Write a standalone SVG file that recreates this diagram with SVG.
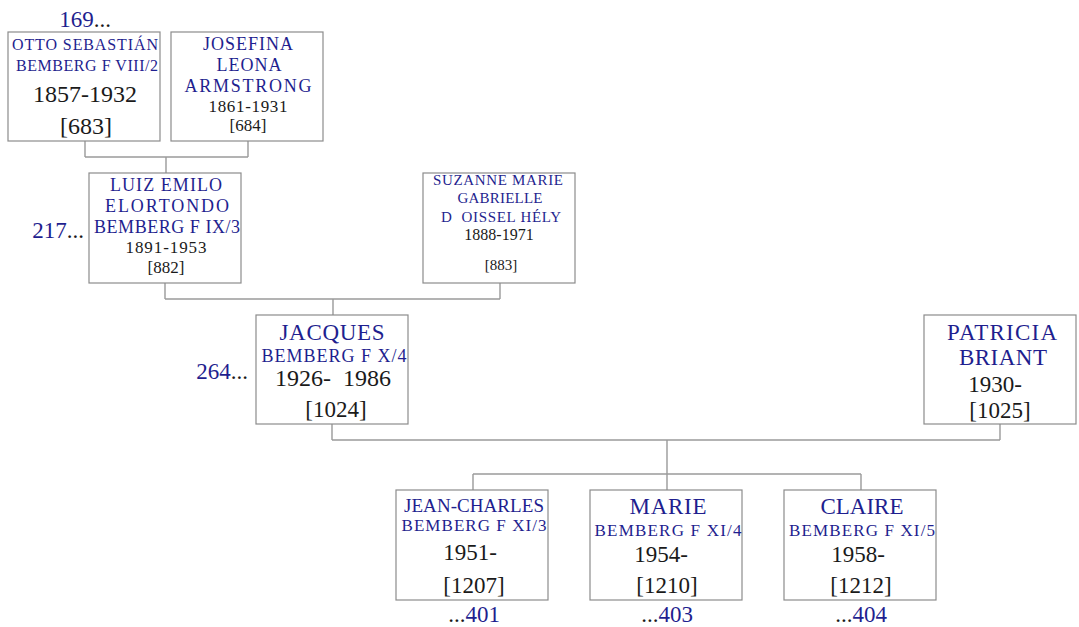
<svg xmlns="http://www.w3.org/2000/svg" width="1079" height="627" viewBox="0 0 1079 627">
<style>
  .box { fill: #ffffff; stroke: #8c8c8c; stroke-width: 1.2; }
  .conn { stroke: #9a9a9a; stroke-width: 1.4; fill: none; }
  .n { font-family: "Liberation Serif", "DejaVu Serif", serif; fill: #1f1f8f; text-anchor: middle; }
  .d { font-family: "Liberation Serif", "DejaVu Serif", serif; fill: #1a1a1a; text-anchor: middle; }
  .ref { font-family: "Liberation Serif", "DejaVu Serif", serif; fill: #1f1f8f; text-anchor: middle; font-size: 23px; }
  .dots { fill: #1a1a1a; }
</style>
<rect width="1079" height="627" fill="#ffffff"/>

<g id="connectors">
  <path class="conn" d="M85 141 V157 M248 141 V157 M85 157 H248 M166 157 V173"/>
  <path class="conn" d="M165 283 V299 M500 283 V299 M165 299 H500 M333 299 V315"/>
  <path class="conn" d="M332 424 V440 M1000 424 V440 M332 440 H1000 M667 440 V474"/>
  <path class="conn" d="M473 474 H861 M473 474 V490 M667 474 V490 M861 474 V490"/>
</g>

<g id="ref169"><text class="ref" x="85" y="27">169<tspan class="dots">...</tspan></text></g>
<g id="ref217"><text class="ref" x="58" y="238">217<tspan class="dots">...</tspan></text></g>
<g id="ref264"><text class="ref" x="222" y="379">264<tspan class="dots">...</tspan></text></g>

<g id="otto">
  <rect class="box" x="8" y="32" width="152" height="109"/>
  <text class="n" x="85" y="50" font-size="16" textLength="146" lengthAdjust="spacing">OTTO SEBASTIÁN</text>
  <text class="n" x="87" y="71" font-size="16" textLength="142" lengthAdjust="spacing">BEMBERG F VIII/2</text>
  <text class="d" x="85" y="102" font-size="24">1857-1932</text>
  <text class="d" x="86" y="134" font-size="24">[683]</text>
</g>

<g id="josefina">
  <rect class="box" x="171" y="32" width="152" height="109"/>
  <text class="n" x="248" y="50" font-size="18" textLength="90" lengthAdjust="spacing">JOSEFINA</text>
  <text class="n" x="249" y="71" font-size="18" textLength="65" lengthAdjust="spacing">LEONA</text>
  <text class="n" x="248" y="92" font-size="18" textLength="127" lengthAdjust="spacing">ARMSTRONG</text>
  <text class="d" x="248" y="112" font-size="17" textLength="79" lengthAdjust="spacing">1861-1931</text>
  <text class="d" x="248" y="131" font-size="17">[684]</text>
</g>

<g id="luiz">
  <rect class="box" x="89" y="173" width="152" height="110"/>
  <text class="n" x="166" y="191" font-size="18" textLength="112" lengthAdjust="spacing">LUIZ EMILO</text>
  <text class="n" x="167" y="212" font-size="18" textLength="124" lengthAdjust="spacing">ELORTONDO</text>
  <text class="n" x="167" y="233" font-size="18" textLength="146" lengthAdjust="spacing">BEMBERG F IX/3</text>
  <text class="d" x="166" y="253" font-size="17" textLength="81" lengthAdjust="spacing">1891-1953</text>
  <text class="d" x="166" y="273" font-size="17">[882]</text>
</g>

<g id="suzanne">
  <rect class="box" x="423" y="173" width="152" height="110"/>
  <text class="n" x="498" y="185" font-size="15" textLength="130" lengthAdjust="spacing">SUZANNE MARIE</text>
  <text class="n" x="500" y="203" font-size="15" textLength="85" lengthAdjust="spacing">GABRIELLE</text>
  <text class="n" x="501" y="222" font-size="15" textLength="120" lengthAdjust="spacing" xml:space="preserve">D  OISSEL HÉLY</text>
  <text class="d" x="499" y="240" font-size="16">1888-1971</text>
  <text class="d" x="501" y="270" font-size="15">[883]</text>
</g>

<g id="jacques">
  <rect class="box" x="256" y="315" width="152" height="109"/>
  <text class="n" x="332" y="340" font-size="23" textLength="105" lengthAdjust="spacing">JACQUES</text>
  <text class="n" x="334" y="362" font-size="18" textLength="145" lengthAdjust="spacing">BEMBERG F X/4</text>
  <text class="d" x="333" y="386" font-size="24" xml:space="preserve">1926-  1986</text>
  <text class="d" x="336" y="417" font-size="23">[1024]</text>
</g>

<g id="patricia">
  <rect class="box" x="924" y="315" width="152" height="109"/>
  <text class="n" x="1002" y="340" font-size="23" textLength="110" lengthAdjust="spacing">PATRICIA</text>
  <text class="n" x="1003" y="365" font-size="23" textLength="88" lengthAdjust="spacing">BRIANT</text>
  <text class="d" x="995" y="392" font-size="23">1930-</text>
  <text class="d" x="1000" y="418" font-size="23">[1025]</text>
</g>

<g id="jeancharles">
  <rect class="box" x="396" y="490" width="152" height="110"/>
  <text class="n" x="474" y="512" font-size="19" textLength="140" lengthAdjust="spacing">JEAN-CHARLES</text>
  <text class="n" x="474" y="531" font-size="17" textLength="145" lengthAdjust="spacing">BEMBERG F XI/3</text>
  <text class="d" x="470" y="560" font-size="23">1951-</text>
  <text class="d" x="474" y="593" font-size="23">[1207]</text>
  <text class="ref" x="474" y="622"><tspan class="dots">...</tspan>401</text>
</g>

<g id="marie">
  <rect class="box" x="590" y="490" width="152" height="110"/>
  <text class="n" x="668" y="514" font-size="23" textLength="77" lengthAdjust="spacing">MARIE</text>
  <text class="n" x="668" y="536" font-size="17" textLength="147" lengthAdjust="spacing">BEMBERG F XI/4</text>
  <text class="d" x="661" y="562" font-size="23">1954-</text>
  <text class="d" x="667" y="593" font-size="23">[1210]</text>
  <text class="ref" x="667" y="622"><tspan class="dots">...</tspan>403</text>
</g>

<g id="claire">
  <rect class="box" x="784" y="490" width="152" height="110"/>
  <text class="n" x="862" y="514" font-size="23" textLength="83" lengthAdjust="spacing">CLAIRE</text>
  <text class="n" x="862" y="536" font-size="17" textLength="146" lengthAdjust="spacing">BEMBERG F XI/5</text>
  <text class="d" x="858" y="562" font-size="23">1958-</text>
  <text class="d" x="861" y="593" font-size="23">[1212]</text>
  <text class="ref" x="861" y="622"><tspan class="dots">...</tspan>404</text>
</g>
</svg>
